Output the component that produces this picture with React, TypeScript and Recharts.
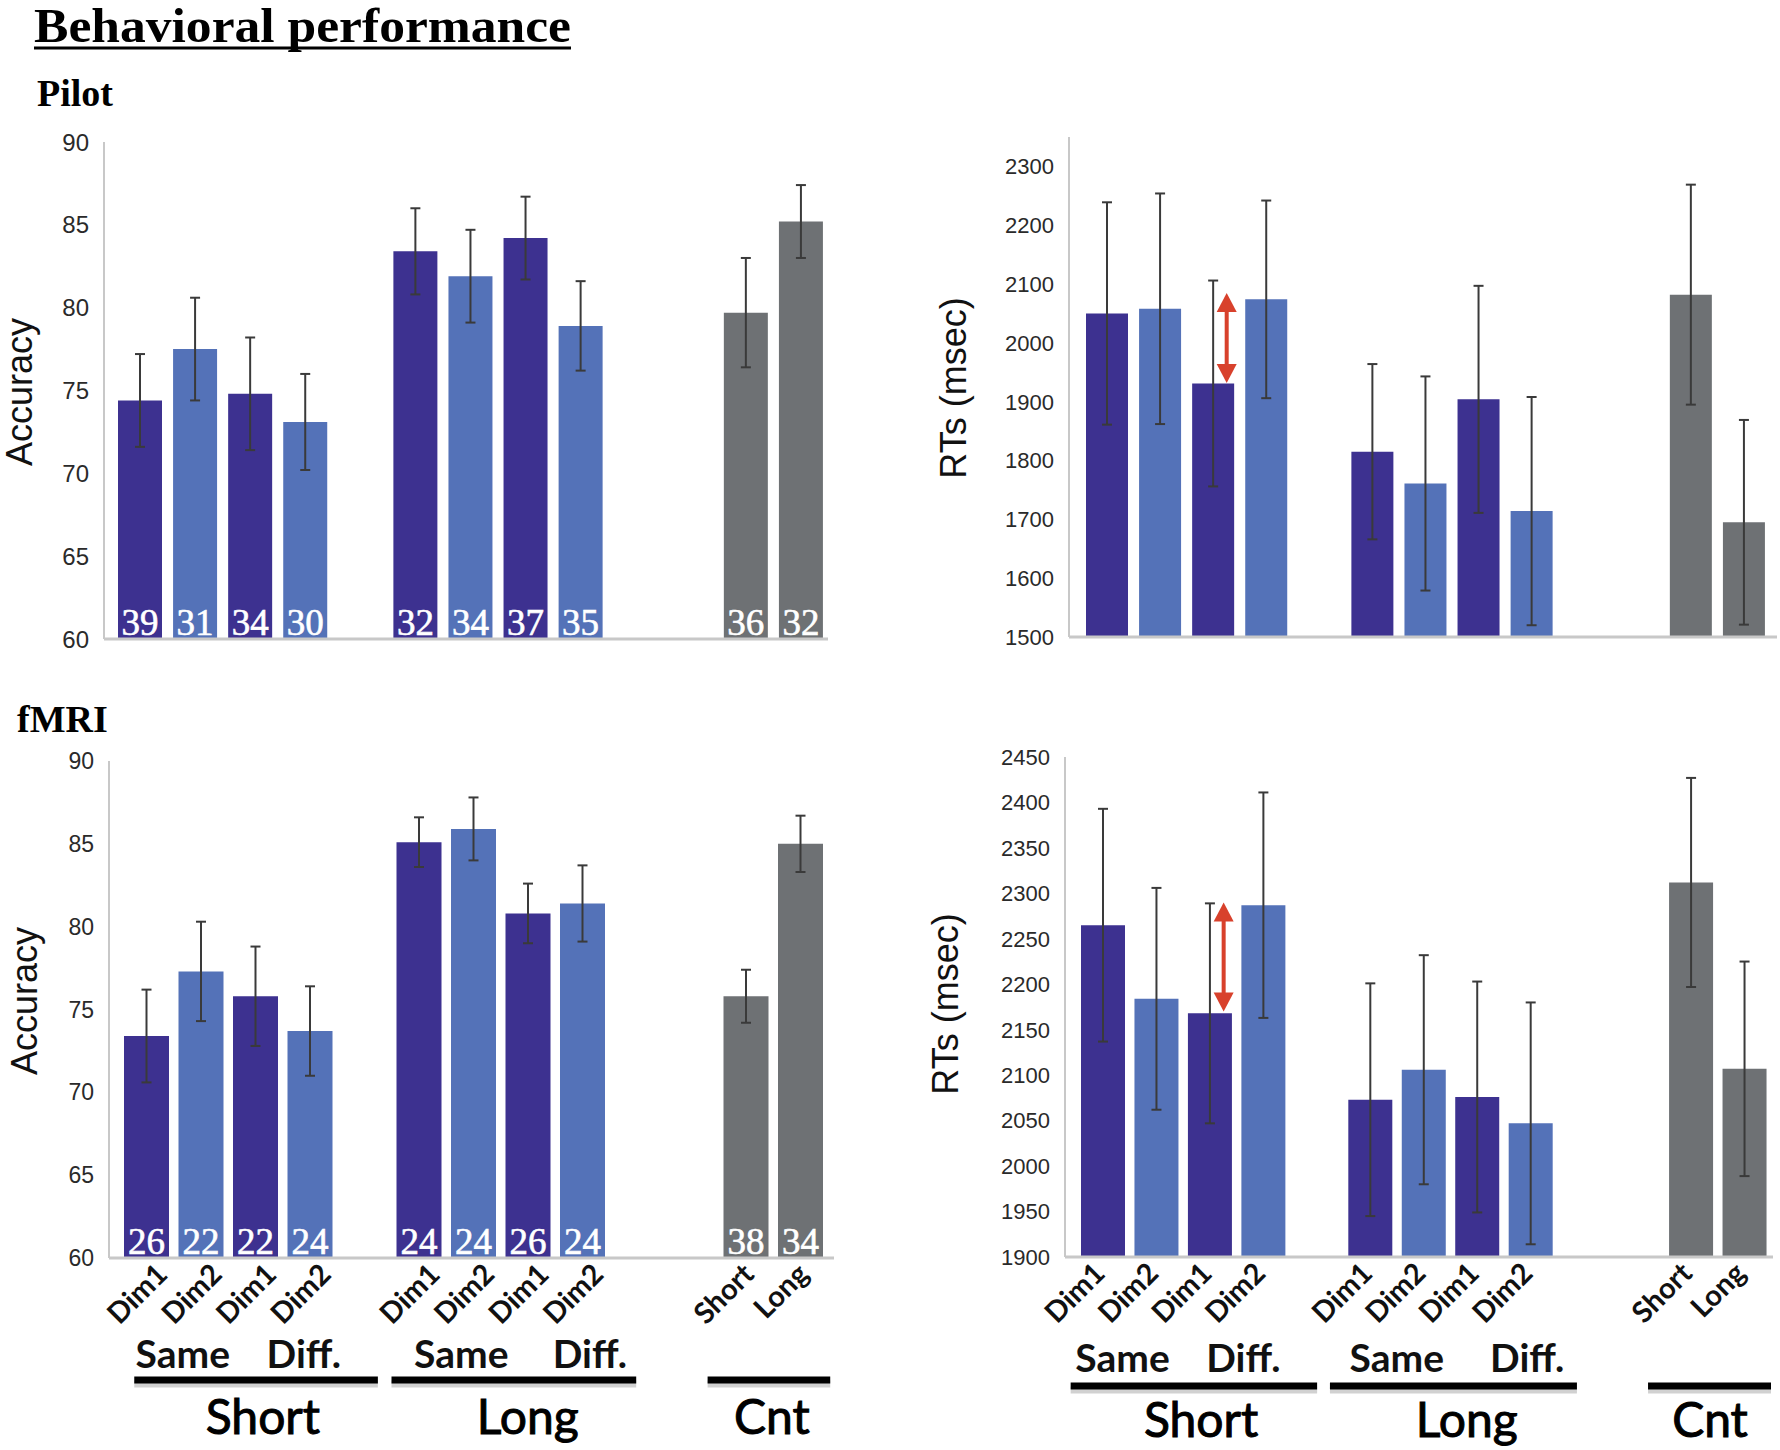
import React from 'react'
import { BarChart, Bar, XAxis, YAxis, ErrorBar, LabelList, Cell, ReferenceLine } from 'recharts'

// 13 slots: Short (Same Dim1/Dim2, Diff Dim1/Dim2), gap, Long (same), 2 gaps, Cnt (Short, Long)
const slotIds = ['sSame1', 'sSame2', 'sDiff1', 'sDiff2', 'gapA', 'lSame1', 'lSame2', 'lDiff1', 'lDiff2', 'gapB', 'gapC', 'cShort', 'cLong']
const tickLabels = ['Dim1', 'Dim2', 'Dim1', 'Dim2', '', 'Dim1', 'Dim2', 'Dim1', 'Dim2', '', '', 'Short', 'Long']
const slotKind = ['dim1', 'dim2', 'dim1', 'dim2', 'gap', 'dim1', 'dim2', 'dim1', 'dim2', 'gap', 'gap', 'cnt', 'cnt']

const pilotAcc = [74.4, 77.5, 74.8, 73.1, null, 83.4, 81.9, 84.2, 78.9, null, null, 79.7, 85.2]
const pilotAccErr = [2.8, 3.1, 3.4, 2.9, null, 2.6, 2.8, 2.5, 2.7, null, null, 3.3, 2.2]
const pilotN = [39, 31, 34, 30, null, 32, 34, 37, 35, null, null, 36, 32]
const pilotRT = [2050, 2058, 1931, 2074, null, 1815, 1761, 1904, 1714, null, null, 2082, 1695]
const pilotRTErr = [189, 196, 175, 168, null, 149, 182, 193, 194, null, null, 187, 174]

const fmriAcc = [73.4, 77.3, 75.8, 73.7, null, 85.1, 85.9, 80.8, 81.4, null, null, 75.8, 85.0]
const fmriAccErr = [2.8, 3.0, 3.0, 2.7, null, 1.5, 1.9, 1.8, 2.3, null, null, 1.6, 1.7]
const fmriN = [26, 22, 22, 24, null, 24, 24, 26, 24, null, null, 38, 34]
const fmriRT = [2265, 2184, 2168, 2287, null, 2073, 2106, 2076, 2047, null, null, 2312, 2107]
const fmriRTErr = [128, 122, 121, 124, null, 128, 126, 127, 133, null, null, 115, 118]

const accTicks = [60, 65, 70, 75, 80, 85, 90]
const pilotRTTicks = [1500, 1600, 1700, 1800, 1900, 2000, 2100, 2200, 2300]
const fmriRTTicks = [1900, 1950, 2000, 2050, 2100, 2150, 2200, 2250, 2300, 2350, 2400, 2450]

// red double arrow on Short / Diff. / Dim1 (top value, bottom value)
const pilotArrow = [2085, 1932]
const fmriArrow = [2290, 2170]

const subLabels = ['Same', 'Diff.', 'Same', 'Diff.']
const groupLabels = ['Short', 'Long', 'Cnt']

const COLORS: Record<string, string> = { dim1: '#3d3190', dim2: '#5472b8', cnt: '#6e7174', gap: 'none' }
const SANS = 'Liberation Sans, Arial, sans-serif'
const SERIF = 'Liberation Serif, Times New Roman, serif'
const LATO = 'Lato, Noto Sans, sans-serif'

type Annot = {
  dimDx: number
  cntDx: number
  dimDy: number
  subs: number[]
  subY: number
  lines: number[][]
  lineY: number
  groups: number[]
  groupY: number
}

function XTick(props: any) {
  const { x, y, payload, slot, annot } = props
  const i = slotIds.indexOf(payload.value)
  const label = tickLabels[i]
  const x0 = x - slot * (i + 0.5)
  const dx = slotKind[i] === 'cnt' ? annot.cntDx : annot.dimDx
  return (
    <g>
      {label && (
        <text
          transform={`translate(${x + dx},${y + annot.dimDy}) rotate(-45)`}
          textAnchor="end"
          fontFamily={LATO}
          fontWeight={700}
          fontSize={29}
          fill="#111"
        >
          {label}
        </text>
      )}
      {i === 0 && (
        <g>
          {subLabels.map((s, k) => (
            <text key={'s' + k} x={x0 + annot.subs[k] * slot} y={y + annot.subY} textAnchor="middle"
              fontFamily={LATO} fontWeight={700} fontSize={39} fill="#111">{s}</text>
          ))}
          {annot.lines.map((ln: number[], k: number) => (
            <g key={'l' + k}>
              <line x1={x0 + ln[0] * slot} x2={x0 + ln[1] * slot} y1={y + annot.lineY + 4} y2={y + annot.lineY + 4}
                stroke="#999" strokeOpacity={0.45} strokeWidth={7} />
              <line x1={x0 + ln[0] * slot} x2={x0 + ln[1] * slot} y1={y + annot.lineY} y2={y + annot.lineY}
                stroke="#000" strokeWidth={7} />
            </g>
          ))}
          {groupLabels.map((g, k) => (
            <text key={'g' + k} x={x0 + annot.groups[k] * slot} y={y + annot.groupY} textAnchor="middle"
              fontFamily={LATO} fontWeight={400} fontSize={48} fill="#000" stroke="#000" strokeWidth={1}>{g}</text>
          ))}
        </g>
      )}
    </g>
  )
}

function YLabel(props: any) {
  const { viewBox, text, cx, dy } = props
  const x = viewBox.x + cx
  const y = viewBox.y + viewBox.height / 2 + dy
  return (
    <text transform={`translate(${x},${y}) rotate(-90)`} textAnchor="middle" dominantBaseline="central"
      fontFamily={SANS} fontSize={36} fill="#111">{text}</text>
  )
}

function NLabel(props: any) {
  const { x, y, width, height, value } = props
  if (value == null) return null
  return (
    <text x={Number(x) + Number(width) / 2} y={Number(y) + Number(height) - 4} textAnchor="middle"
      fontFamily={SERIF} fontSize={37} fill="#fff" stroke="#fff" strokeWidth={0.6}>{value}</text>
  )
}

function Arrow(props: any) {
  const { x1, y1, y2 } = props
  const x = Number(x1) + 14
  const top = Math.min(y1, y2)
  const bot = Math.max(y1, y2)
  const hw = 10
  const hl = 19
  return (
    <g fill="#d8412c">
      <rect x={x - 2} y={top + hl - 1} width={4} height={bot - top - 2 * hl + 2} />
      <polygon points={`${x},${top} ${x - hw},${top + hl} ${x + hw},${top + hl}`} />
      <polygon points={`${x},${bot} ${x - hw},${bot - hl} ${x + hw},${bot - hl}`} />
    </g>
  )
}

type PanelProps = {
  left: number
  top: number
  width: number
  height: number
  marginTop: number
  marginRight: number
  yWidth: number
  xHeight: number
  padLeft: number
  padRight: number
  domain: [number, number]
  ticks: number[]
  values: (number | null)[]
  errs: (number | null)[]
  ns?: (number | null)[]
  barSize: number
  yLabel: string
  yLabelX: number
  yLabelDy: number
  tickFont: number
  annot?: Annot
  arrow?: number[]
}

function Panel(p: PanelProps) {
  const data = slotIds.map((id, i) => ({
    id,
    kind: slotKind[i],
    value: p.values[i],
    err: p.errs[i],
    n: p.ns ? p.ns[i] : null,
  }))
  const slot = (p.width - p.marginRight - p.yWidth - p.padLeft - p.padRight) / slotIds.length
  return (
    <div style={{ position: 'absolute', left: p.left, top: p.top }}>
      <BarChart
        width={p.width}
        height={p.height}
        data={data}
        margin={{ top: p.marginTop, right: p.marginRight, bottom: 0, left: 0 }}
        barCategoryGap={0}
      >
        <XAxis
          dataKey="id"
          type="category"
          interval={0}
          padding={{ left: p.padLeft, right: p.padRight }}
          height={p.xHeight}
          axisLine={{ stroke: '#c8c8c8', strokeWidth: 3 }}
          tickLine={false}
          tickSize={0}
          tickMargin={0}
          tick={p.annot ? (tp: any) => <XTick {...tp} slot={slot} annot={p.annot} /> : false}
        />
        <YAxis
          type="number"
          domain={p.domain}
          ticks={p.ticks}
          interval={0}
          allowDataOverflow
          width={p.yWidth}
          axisLine={{ stroke: '#c8c8c8', strokeWidth: 2 }}
          tickLine={false}
          tickSize={0}
          tickMargin={15}
          tick={{ fontSize: p.tickFont, fill: '#2a2a2a', fontFamily: SANS }}
          label={<YLabel text={p.yLabel} cx={p.yLabelX} dy={p.yLabelDy} />}
        />
        <Bar dataKey="value" barSize={p.barSize} isAnimationActive={false}>
          {data.map((d) => (
            <Cell key={d.id} fill={COLORS[d.kind]} />
          ))}
          <ErrorBar dataKey="err" width={5} stroke="#3a3a3a" strokeWidth={2} />
          {p.ns && <LabelList dataKey="n" content={NLabel} />}
        </Bar>
        {p.arrow && (
          <ReferenceLine
            segment={[{ x: 'sDiff1', y: p.arrow[0] }, { x: 'sDiff1', y: p.arrow[1] }]}
            shape={Arrow}
            ifOverflow="visible"
          />
        )}
      </BarChart>
    </div>
  )
}

const leftAnnot: Annot = {
  dimDx: 23, cntDx: 10, dimDy: 18,
  subs: [1.17, 3.39, 6.28, 8.64], subY: 110,
  lines: [[0.28, 4.75], [5.0, 9.49], [10.8, 13.05]], lineY: 122,
  groups: [2.64, 7.5, 11.98], groupY: 176,
}
const rightAnnot: Annot = {
  dimDx: 4, cntDx: 3, dimDy: 18,
  subs: [0.87, 3.13, 6.0, 8.44], subY: 115,
  lines: [[-0.1, 4.51], [4.75, 9.37], [10.7, 13.0]], lineY: 129,
  groups: [2.34, 7.31, 11.86], groupY: 180,
}

export default function App() {
  return (
    <div style={{ position: 'absolute', left: 0, top: 0, width: 1780, height: 1450, background: '#fff', overflow: 'hidden' }}>
      <svg width={1780} height={760} style={{ position: 'absolute', left: 0, top: 0 }}>
        <text x={34} y={42} fontFamily={SERIF} fontWeight={700} fontSize={48} fill="#000"
          textLength={537} lengthAdjust="spacingAndGlyphs">Behavioral performance</text>
        <line x1={34} x2={571} y1={48} y2={48} stroke="#000" strokeWidth={3} />
        <text x={37} y={106} fontFamily={SERIF} fontWeight={700} fontSize={38} fill="#000">Pilot</text>
        <text x={17} y={732} fontFamily={SERIF} fontWeight={700} fontSize={38} fill="#000">fMRI</text>
      </svg>

      <Panel left={0} top={100} width={830} height={559} marginTop={42} marginRight={2} yWidth={104} xHeight={20}
        padLeft={8} padRight={0} domain={[60, 90]} ticks={accTicks} values={pilotAcc} errs={pilotAccErr} ns={pilotN}
        barSize={44} yLabel="Accuracy" yLabelX={19} yLabelDy={1.5} tickFont={24} />

      <Panel left={930} top={100} width={849} height={557} marginTop={37} marginRight={2} yWidth={139} xHeight={20}
        padLeft={11} padRight={7} domain={[1500, 2350]} ticks={pilotRTTicks} values={pilotRT} errs={pilotRTErr}
        barSize={42} yLabel="RTs (msec)" yLabelX={23} yLabelDy={1} tickFont={22} arrow={pilotArrow} />

      <Panel left={0} top={700} width={836} height={750} marginTop={61} marginRight={2} yWidth={109} xHeight={192}
        padLeft={10} padRight={6.5} domain={[60, 90]} ticks={accTicks} values={fmriAcc} errs={fmriAccErr} ns={fmriN}
        barSize={45} yLabel="Accuracy" yLabelX={24} yLabelDy={-8.5} tickFont={23} annot={leftAnnot} />

      <Panel left={925} top={700} width={850} height={750} marginTop={57} marginRight={2} yWidth={140} xHeight={193}
        padLeft={11} padRight={2} domain={[1900, 2450]} ticks={fmriRTTicks} values={fmriRT} errs={fmriRTErr}
        barSize={44} yLabel="RTs (msec)" yLabelX={20} yLabelDy={-3} tickFont={22} annot={rightAnnot} arrow={fmriArrow} />
    </div>
  )
}
